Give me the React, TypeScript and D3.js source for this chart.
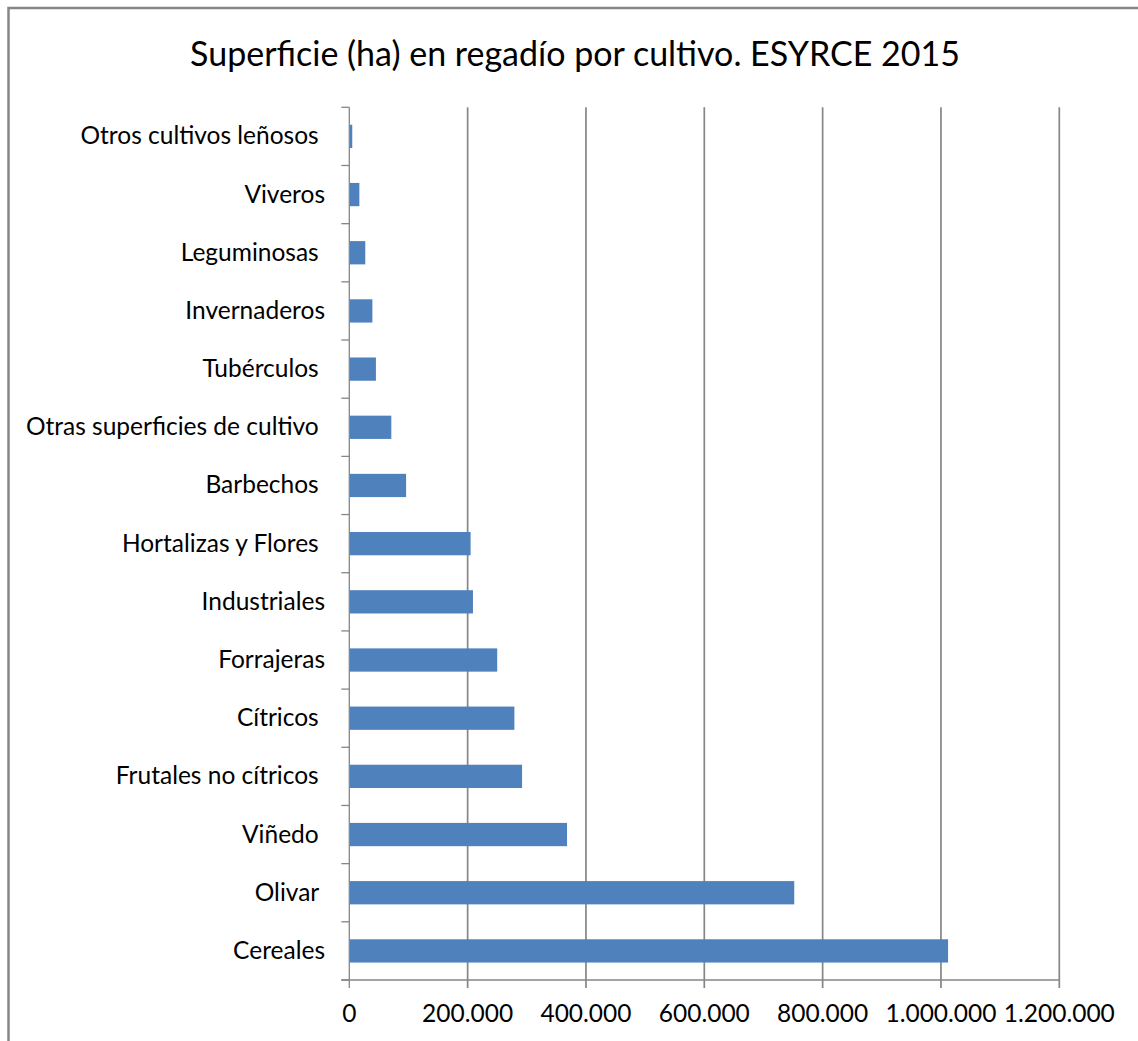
import React from "react";
import * as d3 from "d3";

const categories = [
  "Otros cultivos leñosos ",
  "Viveros",
  "Leguminosas ",
  "Invernaderos",
  "Tubérculos ",
  "Otras superficies de cultivo ",
  "Barbechos ",
  "Hortalizas y Flores ",
  "Industriales",
  "Forrajeras",
  "Cítricos ",
  "Frutales no cítricos ",
  "Viñedo ",
  "Olivar ",
  "Cereales",
];
const values = [5000, 17000, 27000, 39000, 45000, 71000, 96000, 205000, 209000, 250000, 279000, 292000, 368000, 752000, 1012000];
const xTicks = [0, 200000, 400000, 600000, 800000, 1000000, 1200000];
const title = "Superficie (ha) en regadío por cultivo. ESYRCE 2015";

const W = 1138;
const H = 1041;
const left = 349.3;
const right = 1059.3;
const top = 107.3;
const bottom = 980;
const FONT = "Lato, 'Open Sans', sans-serif";
const GRAY = "#868686";

const fmt = (v: number) => {
  if (v === 0) return "0";
  return d3.format(",")(v).replace(/,/g, ".");
};

export default function App() {
  const x = d3.scaleLinear().domain([0, 1200000]).range([left, right]);
  const y = d3.scaleBand<string>().domain(categories).range([top, bottom]).padding(0);
  const step = y.step();
  const barH = step / 2.5;
  const boundaries = d3.range(categories.length + 1).map((i) => top + i * step);

  return (
    <svg
      width={W}
      height={H}
      style={{ position: "absolute", left: 0, top: 0, display: "block", background: "#fff" }}
    >
      <rect x={0} y={0} width={W} height={H} fill="#fff" />
      {/* chart border */}
      <rect x={8.5} y={8} width={W + 20} height={H + 20} fill="none" stroke={GRAY} strokeWidth={2.5} />
      <text
        x={575}
        y={66}
        textAnchor="middle"
        fontFamily={FONT}
        fontSize={34}
        fill="#000"
      >
        {title}
      </text>
      {/* gridlines */}
      {xTicks.slice(1).map((t) => (
        <line key={"g" + t} x1={x(t)} x2={x(t)} y1={top} y2={bottom + 8} stroke={GRAY} strokeWidth={1.7} />
      ))}
      {/* bars */}
      {categories.map((c, i) => (
        <rect
          key={c}
          x={x(0)}
          y={(y(c) as number) + (step - barH) / 2}
          width={x(values[i]) - x(0)}
          height={barH}
          fill="#4F81BD"
        />
      ))}
      {/* y axis */}
      <line x1={left} x2={left} y1={top} y2={bottom + 8} stroke={GRAY} strokeWidth={1.3} />
      {boundaries.map((b, i) => (
        <line key={"yt" + i} x1={left - 8} x2={left} y1={b} y2={b} stroke={GRAY} strokeWidth={1.3} />
      ))}
      {/* x axis */}
      <line x1={left - 8} x2={right} y1={bottom} y2={bottom} stroke={GRAY} strokeWidth={1.3} />
      {/* category labels */}
      {categories.map((c) => (
        <text
          key={"l" + c}
          x={325}
          y={(y(c) as number) + step / 2 + 8}
          textAnchor="end"
          fontFamily={FONT}
          fontSize={24.5}
          fill="#000"
          style={{ whiteSpace: "pre" }}
        >
          {c}
        </text>
      ))}
      {/* x tick labels */}
      {xTicks.map((t) => (
        <text
          key={"xt" + t}
          x={x(t)}
          y={1022}
          textAnchor="middle"
          fontFamily={FONT}
          fontSize={24.5}
          fill="#000"
        >
          {fmt(t)}
        </text>
      ))}
    </svg>
  );
}
